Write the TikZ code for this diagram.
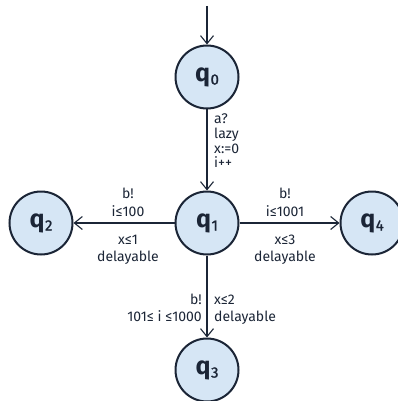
\documentclass[tikz,border=0pt]{standalone}
\usepackage{fontspec}
\setmainfont{Fira Sans}
\usetikzlibrary{arrows.meta}
\definecolor{ink}{HTML}{1B2536}
\definecolor{stfill}{HTML}{D6E6F5}
\tikzset{
  state/.style={circle, draw=ink, line width=2pt, fill=stfill, minimum size=63pt, inner sep=0pt,
    font=\fontsize{25}{25}\selectfont\bfseries, text=ink},
  edge/.style={draw=ink, line width=2pt, -{Straight Barb[length=8pt,width=13pt,line width=1.1pt]}},
  lbl/.style={font=\fontsize{14}{14}\selectfont, text=ink, inner sep=0pt, anchor=base},
  lblw/.style={lbl, anchor=base west},
  lble/.style={lbl, anchor=base east},
}
\newcommand{\stlab}[1]{q\kern0.5pt\raisebox{-3.5pt}{\fontsize{15}{15}\selectfont\mdseries\addfontfeatures{FakeBold=1.2}#1}}
\begin{document}
\begin{tikzpicture}[x=1pt,y=-1pt]
\useasboundingbox (0,0) rectangle (398,401);
\node[state] (q0) at (207,77) {\stlab{0}};
\node[state] (q1) at (207,223) {\stlab{1}};
\node[state] (q2) at (41,223) {\stlab{2}};
\node[state] (q4) at (372,223) {\stlab{4}};
\node[state] (q3) at (207,370) {\stlab{3}};
\coordinate (init) at (207,6);
\draw[edge] (init) -- (q0);
\draw[edge] (q0) -- (q1);
\draw[edge] (q1) -- (q2);
\draw[edge] (q1) -- (q4);
\draw[edge] (q1) -- (q3);
% q0 -> q1
\node[lblw] (l01a) at (214,124) {a?};
\node[lblw] (l01b) at (214,138.5) {lazy};
\node[lblw] (l01c) at (214,153) {x:=0};
\node[lblw] (l01d) at (214,167.5) {i++};
% q1 -> q2
\node[lbl] (l12a) at (128,198) {b!};
\node[lbl] (l12b) at (128,216) {i≤100};
\node[lbl] (l12c) at (128,244) {x≤1};
\node[lbl] (l12d) at (128,261) {delayable};
% q1 -> q4
\node[lbl] (l14a) at (285,198) {b!};
\node[lbl] (l14b) at (285,216) {i≤1001};
\node[lbl] (l14c) at (285,244) {x≤3};
\node[lbl] (l14d) at (285,261) {delayable};
% q1 -> q3
\node[lble] (l13a) at (202,304) {b!};
\node[lble] (l13b) at (202,321) {101≤ i ≤1000};
\node[lblw] (l13c) at (214,304) {x≤2};
\node[lblw] (l13d) at (214,321) {delayable};
\end{tikzpicture}
\end{document}
